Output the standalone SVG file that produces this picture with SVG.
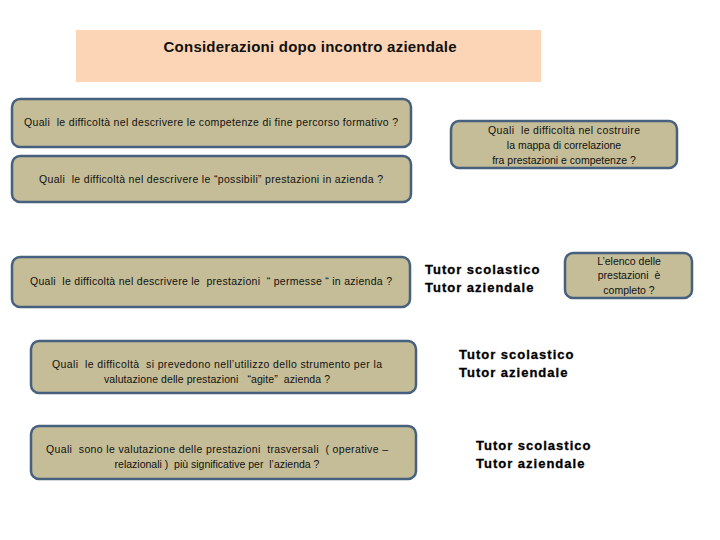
<svg xmlns="http://www.w3.org/2000/svg" width="720" height="540" viewBox="0 0 720 540">
<style>
.box{fill:#C4BD97;stroke:#46607E;stroke-width:2.5}
.q{font-family:"Liberation Sans",Arial,sans-serif;font-size:10.5px;fill:#111;text-anchor:middle;white-space:pre}
.tut{font-family:"Liberation Sans",Arial,sans-serif;font-size:13px;font-weight:bold;fill:#000;letter-spacing:1px;stroke:#000;stroke-width:0.3}
</style>
<rect width="720" height="540" fill="#fff"/>
<g id="title">
<rect x="76" y="30" width="465" height="52" fill="#FBD5B5"/>
<text x="310" y="52" textLength="293" style="font-family:'Liberation Sans',Arial,sans-serif;font-size:15px;font-weight:bold;fill:#111;text-anchor:middle">Considerazioni dopo incontro aziendale</text>
</g>
<g id="q1">
<rect class="box" x="12" y="99" width="399" height="48" rx="8"/>
<text class="q" x="211" y="126" textLength="374">Quali  le difficoltà nel descrivere le competenze di fine percorso formativo ?</text>
</g>
<g id="q2">
<rect class="box" x="12" y="156" width="399" height="46" rx="8"/>
<text class="q" x="211" y="183" textLength="344">Quali  le difficoltà nel descrivere le “possibili” prestazioni in azienda ?</text>
</g>
<g id="q3">
<rect class="box" x="451" y="121" width="226" height="47" rx="8"/>
<text class="q" x="564" y="134" textLength="152">Quali  le difficoltà nel costruire</text>
<text class="q" x="564" y="149">la mappa di correlazione</text>
<text class="q" x="564" y="164">fra prestazioni e competenze ?</text>
</g>
<g id="q4">
<rect class="box" x="12" y="257" width="398" height="50" rx="8"/>
<text class="q" x="211" y="285" textLength="362">Quali  le difficoltà nel descrivere le  prestazioni  “ permesse “ in azienda ?</text>
</g>
<g id="q5">
<rect class="box" x="565" y="253" width="127" height="45" rx="8"/>
<text class="q" x="629" y="265">L’elenco delle</text>
<text class="q" x="629" y="279">prestazioni  è</text>
<text class="q" x="629" y="294">completo ?</text>
</g>
<g id="q6">
<rect class="box" x="31" y="341" width="385" height="52" rx="8"/>
<text class="q" x="217" y="368" textLength="330">Quali  le difficoltà  si prevedono nell’utilizzo dello strumento per la</text>
<text class="q" x="217" y="383" textLength="226">valutazione delle prestazioni   “agite”  azienda ?</text>
</g>
<g id="q7">
<rect class="box" x="31" y="426" width="385" height="53" rx="8"/>
<text class="q" x="217" y="453" textLength="342">Quali  sono le valutazione delle prestazioni  trasversali  ( operative –</text>
<text class="q" x="217" y="468">relazionali )  più significative per  l’azienda ?</text>
</g>
<g id="tutor1">
<text class="tut" x="425" y="274">Tutor scolastico</text>
<text class="tut" x="425" y="292">Tutor aziendale</text>
</g>
<g id="tutor2">
<text class="tut" x="459" y="359">Tutor scolastico</text>
<text class="tut" x="459" y="377">Tutor aziendale</text>
</g>
<g id="tutor3">
<text class="tut" x="476" y="450">Tutor scolastico</text>
<text class="tut" x="476" y="468">Tutor aziendale</text>
</g>
<g id="connectors"/>
</svg>
